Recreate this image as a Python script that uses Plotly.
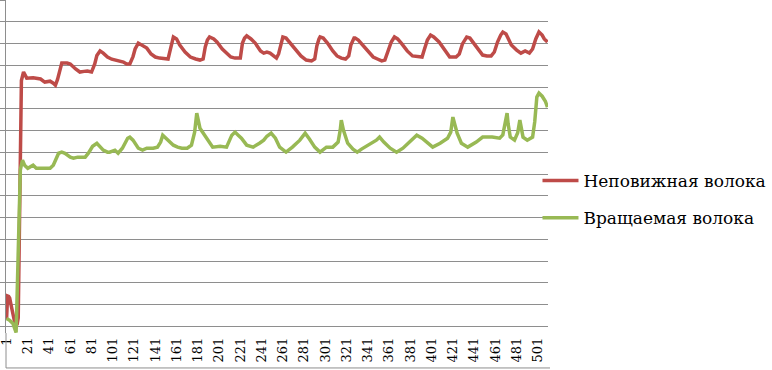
import plotly.graph_objects as go

# ---- data (category index, value in gridline units) ----
red_cat = [1, 2, 3, 4, 5, 6, 7, 8, 9, 10, 11, 12, 13, 14, 15, 17, 20, 26, 30, 33, 37, 42, 45, 47, 49, 51, 53, 58, 61, 66, 70, 74, 77, 81, 84, 86, 89, 92, 96, 100, 103, 108, 111, 114, 117, 120, 122, 125, 128, 133, 137, 141, 145, 150, 153, 155, 157, 158, 161, 164, 169, 174, 179, 183, 186, 188, 190, 192, 196, 199, 204, 208, 212, 216, 221, 223, 225, 227, 231, 235, 240, 243, 246, 249, 253, 255, 257, 259, 261, 264, 268, 273, 278, 283, 288, 291, 293, 295, 296, 299, 303, 308, 312, 316, 320, 323, 325, 328, 329, 332, 336, 341, 346, 350, 354, 357, 360, 363, 366, 369, 373, 378, 383, 388, 392, 394, 397, 400, 403, 408, 415, 418, 424, 427, 430, 434, 437, 443, 449, 453, 457, 460, 463, 466, 468, 471, 476, 481, 485, 489, 493, 496, 499, 502, 505, 507, 510]
red_val = [0.30, 1.40, 1.38, 1.30, 1.05, 0.78, 0.50, 0.28, 0.12, 0.05, 0.10, 0.40, 4.00, 9.50, 11.30, 11.69, 11.41, 11.43, 11.39, 11.37, 11.23, 11.27, 11.18, 11.09, 11.35, 11.80, 12.10, 12.10, 12.06, 11.83, 11.69, 11.72, 11.74, 11.69, 12.06, 12.45, 12.66, 12.56, 12.38, 12.28, 12.24, 12.15, 12.15, 12.06, 12.06, 12.40, 12.75, 13.02, 12.93, 12.79, 12.52, 12.38, 12.33, 12.33, 12.29, 12.70, 13.16, 13.30, 13.21, 12.93, 12.61, 12.38, 12.29, 12.24, 12.29, 12.84, 13.16, 13.30, 13.21, 13.07, 12.75, 12.56, 12.38, 12.33, 12.33, 13.02, 13.25, 13.35, 13.21, 13.02, 12.66, 12.56, 12.61, 12.56, 12.38, 12.33, 12.52, 12.98, 13.30, 13.25, 13.02, 12.70, 12.43, 12.24, 12.20, 12.29, 12.89, 13.21, 13.30, 13.25, 13.02, 12.66, 12.43, 12.33, 12.29, 12.43, 12.93, 13.25, 13.25, 13.16, 12.93, 12.66, 12.38, 12.29, 12.20, 12.24, 12.61, 13.07, 13.30, 13.21, 12.98, 12.66, 12.43, 12.38, 12.38, 12.70, 13.16, 13.39, 13.30, 13.07, 12.56, 12.38, 12.38, 12.52, 12.98, 13.30, 13.25, 12.84, 12.47, 12.43, 12.43, 12.61, 13.07, 13.39, 13.53, 13.44, 12.93, 12.70, 12.56, 12.66, 12.56, 12.75, 13.21, 13.53, 13.39, 13.21, 13.07]

green_cat = [1, 4, 7, 9, 10, 11, 12, 13, 14, 16, 18, 21, 23, 26, 29, 33, 37, 42, 45, 48, 50, 53, 56, 61, 64, 68, 75, 78, 82, 86, 89, 92, 96, 98, 103, 106, 110, 113, 115, 117, 120, 125, 129, 133, 139, 143, 146, 148, 151, 154, 158, 162, 166, 171, 175, 178, 180, 183, 185, 190, 195, 202, 208, 213, 216, 219, 222, 227, 233, 239, 243, 246, 250, 254, 258, 264, 270, 277, 282, 286, 291, 296, 302, 308, 313, 315, 316, 318, 322, 327, 331, 335, 341, 346, 349, 352, 356, 362, 368, 374, 379, 383, 387, 392, 396, 402, 409, 416, 419, 421, 423, 425, 429, 435, 443, 449, 458, 465, 468, 470, 472, 473, 475, 479, 482, 484, 486, 487, 491, 496, 498, 500, 502, 505, 508, 510]
green_val = [0.37, 0.28, 0.14, -0.18, -0.28, 1.50, 4.00, 6.00, 7.20, 7.64, 7.41, 7.27, 7.32, 7.41, 7.27, 7.27, 7.23, 7.27, 7.41, 7.78, 7.96, 8.01, 7.96, 7.78, 7.73, 7.78, 7.78, 7.96, 8.28, 8.42, 8.28, 8.10, 8.01, 8.01, 8.10, 7.96, 8.19, 8.47, 8.65, 8.70, 8.56, 8.19, 8.10, 8.19, 8.19, 8.24, 8.47, 8.79, 8.65, 8.47, 8.33, 8.24, 8.19, 8.19, 8.33, 8.93, 9.80, 9.11, 8.97, 8.56, 8.24, 8.28, 8.24, 8.79, 8.93, 8.79, 8.65, 8.33, 8.24, 8.42, 8.56, 8.74, 8.88, 8.65, 8.24, 8.01, 8.24, 8.56, 8.88, 8.61, 8.24, 8.01, 8.24, 8.24, 8.47, 9.02, 9.48, 9.02, 8.42, 8.15, 8.01, 8.15, 8.33, 8.47, 8.56, 8.70, 8.47, 8.19, 8.01, 8.19, 8.42, 8.56, 8.79, 8.65, 8.47, 8.24, 8.42, 8.65, 8.93, 9.62, 9.25, 8.88, 8.42, 8.24, 8.47, 8.70, 8.70, 8.65, 8.80, 9.34, 9.80, 9.30, 8.70, 8.56, 8.90, 9.48, 9.00, 8.70, 8.56, 8.70, 9.40, 10.54, 10.72, 10.58, 10.35, 10.08]

series_names = ["Неповижная волока", "Вращаемая волока"]
tick_vals = list(range(1, 502, 20))
tick_text = [str(v) for v in tick_vals]
n_categories = 510

RED = "#BE4B48"
GREEN = "#98B954"
GRID = "#8E8E8E"
SERIF = "DejaVu Serif"

fig = go.Figure()
fig.add_trace(go.Scatter(x=red_cat, y=red_val, mode="lines", name=series_names[0],
                         legendgroup="a", line=dict(color=RED, width=3.5)))
fig.add_trace(go.Scatter(x=green_cat, y=green_val, mode="lines", name=series_names[1],
                         legendgroup="b", line=dict(color=GREEN, width=3.5)))

fig.update_layout(
    width=772, height=370,
    margin=dict(l=6, r=224, t=0, b=37, pad=0, autoexpand=False),
    paper_bgcolor="white", plot_bgcolor="white",
    font=dict(family=SERIF, color="#000"),
    legend=dict(x=0.9806, xanchor="left", y=0.5105, yanchor="top",
                font=dict(family=SERIF, size=17, color="#000"),
                traceorder="grouped", tracegroupgap=12, itemwidth=36,
                bgcolor="rgba(0,0,0,0)", borderwidth=0),
    xaxis=dict(range=[0.5, n_categories + 0.5], tickmode="array", automargin=False,
               tickvals=tick_vals, ticktext=tick_text, tickangle=-90,
               tickfont=dict(family=SERIF, size=13, color="#000"),
               showgrid=False, zeroline=False, showline=False, ticks="",
               ticklabelstandoff=1, ticklabeloverflow="allow"),
    yaxis=dict(range=[-0.3, 15.0], tick0=0, dtick=1, showticklabels=False, automargin=False,
               showgrid=True, gridcolor=GRID, gridwidth=1, zeroline=False,
               showline=True, linecolor=GRID, linewidth=1,
               ticks="outside", ticklen=6, tickcolor=GRID, tickwidth=1),
    shapes=[
        dict(type="line", xref="paper", yref="paper", x0=0, x1=0, y0=-0.105, y1=0,
             line=dict(color=GRID, width=1)),
        dict(type="line", xref="paper", yref="paper", x0=0, x1=1.0037, y0=-0.105, y1=-0.105,
             line=dict(color=GRID, width=1)),
    ],
)

fig.write_html("out.html", config={"displayModeBar": False},
               post_script="document.body.style.margin='0';")
